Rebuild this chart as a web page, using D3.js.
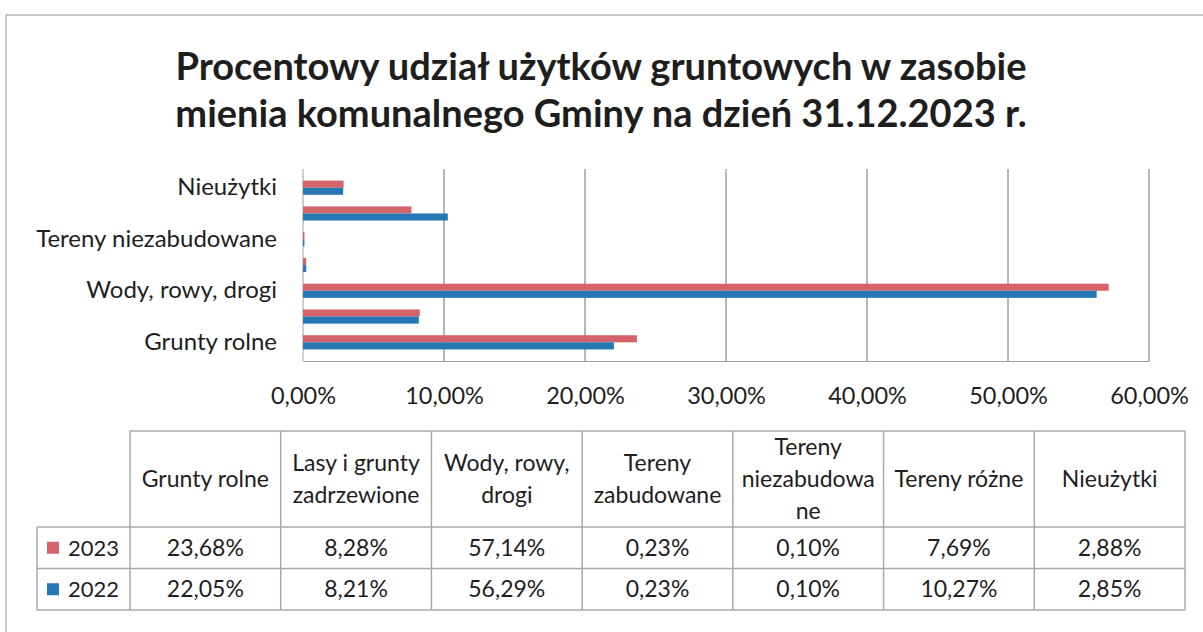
<!DOCTYPE html>
<html>
<head>
<meta charset="utf-8">
<script src="https://cdn.jsdelivr.net/npm/d3@7"></script>
<style>
  body { margin: 0; background: #ffffff; }
  svg text { font-family: Lato, "Open Sans", sans-serif; fill: #1e1e1e; }
</style>
</head>
<body>
<div id="chart"></div>
<script>
"use strict"

// data
const titleLines = ["Procentowy udział użytków gruntowych w zasobie", "mienia komunalnego Gminy na dzień 31.12.2023 r."];
const categories = ["Grunty rolne", "Lasy i grunty zadrzewione", "Wody, rowy, drogi", "Tereny zabudowane",
                    "Tereny niezabudowane", "Tereny różne", "Nieużytki"];
const headerLines = [["Grunty rolne"], ["Lasy i grunty", "zadrzewione"], ["Wody, rowy,", "drogi"],
                     ["Tereny", "zabudowane"], ["Tereny", "niezabudowa", "ne"], ["Tereny różne"], ["Nieużytki"]];
const seriesNames = ["2023", "2022"];
const values2023 = [23.68, 8.28, 57.14, 0.23, 0.10, 7.69, 2.88];
const values2022 = [22.05, 8.21, 56.29, 0.23, 0.10, 10.27, 2.85];
const xTicks = [0, 10, 20, 30, 40, 50, 60];

const colors = {"2023": "#d5646a", "2022": "#2777b5"};
const series = {"2023": values2023, "2022": values2022};

const W = 1203, H = 632;
const svg = d3.select("#chart").append("svg")
    .attr("width", W)
    .attr("height", H);

const fmt = v => d3.format(".2f")(v).replace(".", ",") + "%";

// outer frame
svg.append("path")
    .attr("d", "M6,632 L6,15 L1203,15")
    .attr("fill", "none")
    .attr("stroke", "#b8b8b8")
    .attr("stroke-width", 1.5);

// title
svg.append("g").selectAll("text")
    .data(titleLines)
    .join("text")
    .attr("x", 601)
    .attr("y", (d, i) => 80 + i * 47)
    .attr("text-anchor", "middle")
    .style("font-size", "38px")
    .style("font-weight", "bold")
    .text(d => d);

// scales
const x = d3.scaleLinear().domain([0, 60]).range([303, 1149]);
const y = d3.scaleBand().domain(categories.slice().reverse()).range([169, 361]).padding(0.45);
const ySub = d3.scaleBand().domain(seriesNames).range([0, y.bandwidth()]);

// gridlines
svg.append("g").selectAll("line")
    .data(xTicks)
    .join("line")
    .attr("x1", d => x(d))
    .attr("x2", d => x(d))
    .attr("y1", 169)
    .attr("y2", 361)
    .attr("stroke", d => d === 0 ? "#a0a0a0" : "#6e6e6e")
    .attr("stroke-width", 1);

// bars
const groups = svg.append("g").selectAll("g")
    .data(categories)
    .join("g")
    .attr("transform", d => `translate(0,${y(d)})`);

groups.selectAll("rect")
    .data((d, i) => seriesNames.map(s => ({s: s, v: series[s][i]})))
    .join("rect")
    .attr("x", x(0))
    .attr("y", d => ySub(d.s))
    .attr("width", d => x(d.v) - x(0))
    .attr("height", ySub.bandwidth())
    .attr("fill", d => colors[d.s]);

// axes
const xAxis = svg.append("g")
    .attr("transform", "translate(0,361)")
    .call(d3.axisBottom(x).tickValues(xTicks).tickFormat(fmt).tickSize(0).tickPadding(26));
xAxis.select(".domain").attr("stroke", "#a0a0a0");
xAxis.selectAll("text").style("font-size", "23.5px").attr("fill", "#1e1e1e").style("font-family", "Lato, sans-serif");

const yAxis = svg.append("g")
    .attr("transform", "translate(303,0)")
    .call(d3.axisLeft(y).tickSize(0).tickPadding(26)
        .tickFormat((d, i) => i % 2 === 0 ? d : ""));
yAxis.select(".domain").remove();
yAxis.selectAll("text").style("font-size", "24px").attr("fill", "#1e1e1e").style("font-family", "Lato, sans-serif");

// data table
const colX = d3.scaleBand().domain(categories).range([130, 1185]);
const tableTop = 431, headBottom = 527, rowH = 41.5;
const rowLeft = 37;
const tbl = svg.append("g");
const lineColor = "#a8a8a8";

// horizontal lines
tbl.append("line").attr("x1", 130).attr("x2", 1185).attr("y1", tableTop).attr("y2", tableTop);
[0, 1, 2].forEach(r => {
    tbl.append("line").attr("x1", rowLeft).attr("x2", 1185)
        .attr("y1", headBottom + r * rowH).attr("y2", headBottom + r * rowH);
});
// vertical lines
tbl.append("line").attr("x1", rowLeft).attr("x2", rowLeft)
    .attr("y1", headBottom).attr("y2", headBottom + 2 * rowH);
categories.concat(["end"]).forEach((c, i) => {
    const xx = i < categories.length ? colX(c) : colX.range()[1];
    tbl.append("line").attr("x1", xx).attr("x2", xx)
        .attr("y1", tableTop).attr("y2", headBottom + 2 * rowH);
});
tbl.selectAll("line").attr("stroke", lineColor).attr("stroke-width", 1.5);

// header text
categories.forEach((c, i) => {
    const lines = headerLines[i];
    const cy = (tableTop + headBottom) / 2;
    tbl.append("text")
        .attr("x", colX(c) + colX.bandwidth() / 2)
        .attr("text-anchor", "middle")
        .style("font-size", "23px")
        .selectAll("tspan")
        .data(lines)
        .join("tspan")
        .attr("x", colX(c) + colX.bandwidth() / 2)
        .attr("y", (d, k) => cy + 8 + (k - (lines.length - 1) / 2) * 32)
        .text(d => d);
});

// value rows
seriesNames.forEach((s, r) => {
    const cy = headBottom + r * rowH + rowH / 2;
    tbl.append("rect")
        .attr("x", 47).attr("y", cy - 6)
        .attr("width", 12).attr("height", 12)
        .attr("fill", colors[s]);
    tbl.append("text")
        .attr("x", 68).attr("y", cy + 8)
        .style("font-size", "22px")
        .text(s);
    categories.forEach((c, i) => {
        tbl.append("text")
            .attr("x", colX(c) + colX.bandwidth() / 2)
            .attr("y", cy + 8)
            .attr("text-anchor", "middle")
            .style("font-size", "23px")
            .text(fmt(series[s][i]));
    });
});
</script>
</body>
</html>
